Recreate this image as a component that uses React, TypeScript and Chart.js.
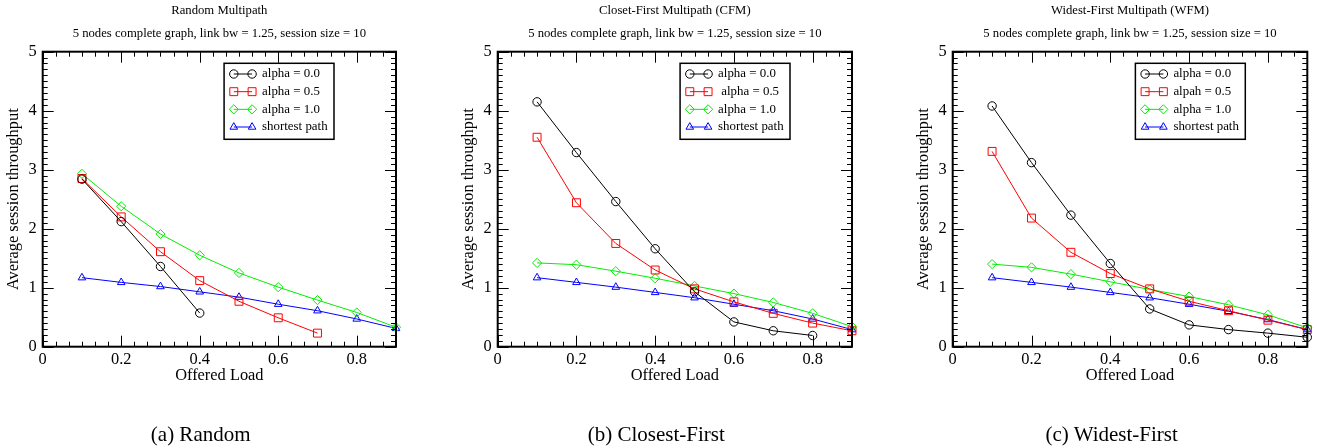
import React, { useEffect, useRef } from "react";
import { Chart, registerables } from "chart.js";

Chart.register(...registerables);
Chart.defaults.font.family = "'Liberation Serif', 'Times New Roman', serif";
Chart.defaults.color = "#000";

// ---------- data ----------
const offeredLoad = [0.1, 0.2, 0.3, 0.4, 0.5, 0.6, 0.7, 0.8, 0.9];
const xTickStep = 0.2;
const yTickStep = 1;

// (a) Random Multipath
const randomAlpha00 = [2.84, 2.12, 1.36, 0.57];
const randomAlpha05 = [2.85, 2.2, 1.61, 1.12, 0.77, 0.49, 0.23];
const randomAlpha10 = [2.93, 2.38, 1.91, 1.55, 1.25, 1.01, 0.79, 0.58, 0.33];
const randomShortest = [1.17, 1.09, 1.02, 0.93, 0.84, 0.72, 0.61, 0.47, 0.31];

// (b) Closet-First Multipath
const cfmAlpha00 = [4.15, 3.29, 2.46, 1.66, 0.93, 0.42, 0.27, 0.19];
const cfmAlpha05 = [3.55, 2.44, 1.75, 1.3, 0.98, 0.76, 0.565, 0.4, 0.27];
const cfmAlpha10 = [1.42, 1.39, 1.28, 1.16, 1.03, 0.9, 0.75, 0.565, 0.34];
const cfmShortest = [1.17, 1.09, 1.01, 0.92, 0.83, 0.72, 0.61, 0.47, 0.29];

// (c) Widest-First Multipath
const wfmAlpha00 = [4.08, 3.12, 2.23, 1.41, 0.64, 0.37, 0.29, 0.23, 0.16];
const wfmAlpha05 = [3.31, 2.18, 1.6, 1.24, 0.98, 0.77, 0.61, 0.45, 0.29];
const wfmAlpha10 = [1.4, 1.345, 1.23, 1.1, 0.97, 0.85, 0.71, 0.54, 0.32];
const wfmShortest = [1.17, 1.09, 1.01, 0.92, 0.83, 0.72, 0.6, 0.46, 0.29];

const labelsA = ["alpha = 0.0", "alpha = 0.5", "alpha = 1.0", "shortest path"];
const labelsB = ["alpha = 0.0", " alpha = 0.5", "alpha = 1.0", "shortest path"];
const labelsC = ["alpha = 0.0", "alpah = 0.5", "alpha = 1.0", "shortest path"];

const titles = ["Random Multipath", "Closet-First Multipath (CFM)", "Widest-First Multipath (WFM)"];
const subtitleText = "5 nodes complete graph, link bw = 1.25, session size = 10";
const captions = ["(a) Random", "(b) Closest-First", "(c) Widest-First"];
const xTitle = "Offered Load";
const yTitle = "Average session throughput";

// ---------- styles ----------
const seriesStyles = [
  { color: "#000000", pointStyle: "circle", radius: 4.2 },
  { color: "#ff0000", pointStyle: "rect", radius: 5.6 },
  { color: "#00ee00", pointStyle: "rectRot", radius: 4.6 },
  { color: "#0000ff", pointStyle: "triangle", radius: 4.4 },
];

const panels = [
  { left: 0, width: 440, padRight: 44, captionX: 200.7, series: [randomAlpha00, randomAlpha05, randomAlpha10, randomShortest], labels: labelsA },
  { left: 455, width: 440, padRight: 43, captionX: 656.3, series: [cfmAlpha00, cfmAlpha05, cfmAlpha10, cfmShortest], labels: labelsB },
  { left: 910, width: 407, padRight: 9.7, captionX: 1111.7, series: [wfmAlpha00, wfmAlpha05, wfmAlpha10, wfmShortest], labels: labelsC },
];

const H = 448;

function drawMarker(ctx: CanvasRenderingContext2D, style: string, x: number, y: number, r: number) {
  ctx.beginPath();
  if (style === "circle") {
    ctx.arc(x, y, r, 0, Math.PI * 2);
  } else if (style === "rect") {
    const s = Math.SQRT1_2 * r;
    ctx.rect(x - s, y - s, 2 * s, 2 * s);
  } else if (style === "rectRot") {
    ctx.moveTo(x - r, y);
    ctx.lineTo(x, y - r);
    ctx.lineTo(x + r, y);
    ctx.lineTo(x, y + r);
    ctx.closePath();
  } else {
    const a = (2 * Math.PI) / 3;
    ctx.moveTo(x, y - r);
    ctx.lineTo(x + Math.sin(a) * r, y - Math.cos(a) * r);
    ctx.lineTo(x + Math.sin(2 * a) * r, y - Math.cos(2 * a) * r);
    ctx.closePath();
  }
  ctx.stroke();
}

const frameTicksPlugin = {
  id: "frameTicks",
  afterDatasetsDraw(chart: any) {
    const { ctx, chartArea: a, scales } = chart;
    const xs = scales.x;
    const ys = scales.y;
    ctx.save();
    ctx.strokeStyle = "#000";
    ctx.lineWidth = 1;
    ctx.beginPath();
    const major = 11;
    const minor = 5;
    // x ticks
    const xMajor = xs.ticks.map((t: any) => t.value);
    const xMinorStep = xTickStep / 6;
    for (let i = 0; ; i++) {
      const v = xs.min + i * xMinorStep;
      if (v > xs.max + 1e-9) break;
      const isMajor = xMajor.some((m: number) => Math.abs(m - v) < 1e-6);
      const px = Math.round(xs.getPixelForValue(v)) + 0.5;
      const len = isMajor ? major : minor;
      ctx.moveTo(px, a.bottom);
      ctx.lineTo(px, a.bottom - len);
      ctx.moveTo(px, a.top);
      ctx.lineTo(px, a.top + len);
    }
    // y ticks
    const yMajor = ys.ticks.map((t: any) => t.value);
    const yMinorStep = yTickStep / 10;
    for (let i = 0; ; i++) {
      const v = ys.min + i * yMinorStep;
      if (v > ys.max + 1e-9) break;
      const isMajor = yMajor.some((m: number) => Math.abs(m - v) < 1e-6);
      const py = Math.round(ys.getPixelForValue(v)) + 0.5;
      const len = isMajor ? major : minor;
      ctx.moveTo(a.left, py);
      ctx.lineTo(a.left + len, py);
      ctx.moveTo(a.right, py);
      ctx.lineTo(a.right - len, py);
    }
    ctx.stroke();
    ctx.lineWidth = 2;
    ctx.strokeRect(a.left, a.top, a.right - a.left, a.bottom - a.top);
    ctx.restore();
  },
};

const boxLegendPlugin = {
  id: "boxLegend",
  afterDraw(chart: any, _args: any, opts: any) {
    const { ctx, chartArea: a } = chart;
    const datasets = chart.data.datasets;
    ctx.save();
    ctx.font = "12.9px 'Liberation Serif', serif";
    let maxW = 0;
    datasets.forEach((d: any) => {
      maxW = Math.max(maxW, ctx.measureText(d.label).width);
    });
    const textX = 38;
    const boxW = textX + maxW + 6.4;
    const boxH = 76;
    const right = a.right - opts.rightGap;
    const left = right - boxW;
    const top = a.top + opts.topGap;
    ctx.fillStyle = "#fff";
    ctx.fillRect(left, top, boxW, boxH);
    ctx.lineWidth = 1.5;
    ctx.strokeStyle = "#000";
    ctx.strokeRect(left, top, boxW, boxH);
    datasets.forEach((d: any, i: number) => {
      const y = top + 10.7 + i * 17.67;
      const x1 = left + 9.7;
      const x2 = left + 28;
      ctx.strokeStyle = d.borderColor;
      ctx.lineWidth = 1;
      ctx.beginPath();
      ctx.moveTo(x1, y);
      ctx.lineTo(x2, y);
      ctx.stroke();
      drawMarker(ctx, d.pointStyle, x1, y, d.pointRadius);
      drawMarker(ctx, d.pointStyle, x2, y, d.pointRadius);
      ctx.fillStyle = "#000";
      ctx.textBaseline = "middle";
      ctx.textAlign = "left";
      ctx.fillText(d.label, left + textX, y);
    });
    ctx.restore();
  },
};

function Panel({ idx }: { idx: number }) {
  const ref = useRef<HTMLCanvasElement>(null);
  const p = panels[idx];
  useEffect(() => {
    const datasets = p.series.map((vals, i) => ({
      label: p.labels[i],
      data: vals.map((v, j) => ({ x: offeredLoad[j], y: v })),
      borderColor: seriesStyles[i].color,
      backgroundColor: "rgba(0,0,0,0)",
      pointBackgroundColor: "rgba(0,0,0,0)",
      pointBorderColor: seriesStyles[i].color,
      pointStyle: seriesStyles[i].pointStyle,
      pointRadius: seriesStyles[i].radius,
      pointBorderWidth: 1,
      borderWidth: 1,
      tension: 0,
      clip: false as any,
    }));
    const chart = new Chart(ref.current!, {
      type: "line",
      data: { datasets },
      plugins: [frameTicksPlugin, boxLegendPlugin],
      options: {
        animation: false,
        responsive: false,
        devicePixelRatio: 1,
        layout: { padding: { left: 0, right: p.padRight, top: 0, bottom: 62.7 } },
        scales: {
          x: {
            type: "linear",
            min: 0,
            max: 0.9,
            grid: { display: false, drawTicks: false },
            border: { display: false },
            ticks: {
              stepSize: xTickStep,
              includeBounds: false,
              padding: 3,
              maxRotation: 0,
              font: { size: 16.4 },
              color: "#000",
              callback: (v: any) => String(Number(Number(v).toFixed(1))),
            },
            title: { display: true, text: xTitle, font: { size: 16.4 }, color: "#000", padding: { top: 0, bottom: 0 } },
            afterFit: (s: any) => {
              s.height = 38.6;
            },
          },
          y: {
            min: 0,
            max: 5,
            grid: { display: false, drawTicks: false },
            border: { display: false },
            ticks: { stepSize: yTickStep, padding: 6, font: { size: 16.4 }, color: "#000" },
            title: { display: true, text: yTitle, font: { size: 16.4 }, color: "#000", padding: { top: 4, bottom: 0 } },
            afterFit: (s: any) => {
              s.width = 42.7;
            },
          },
        },
        plugins: {
          legend: { display: false },
          tooltip: { enabled: false },
          title: {
            display: true,
            text: titles[idx],
            fullSize: false,
            color: "#000",
            font: { size: 12.7, weight: "normal" },
            padding: { top: 3.4, bottom: 3.6 },
          },
          subtitle: {
            display: true,
            text: subtitleText,
            fullSize: false,
            color: "#000",
            font: { size: 12.7, weight: "normal" },
            padding: { top: 4.14, bottom: 10.08 },
          },
          boxLegend: { rightGap: 62, topGap: 11.6 },
        } as any,
      },
    });
    return () => chart.destroy();
  }, []);
  return (
    <>
      <canvas
        ref={ref}
        width={p.width}
        height={H}
        style={{ position: "absolute", left: p.left, top: 0, width: p.width, height: H, display: "block" }}
      />
      <div
        style={{
          position: "absolute",
          left: p.captionX - 150,
          width: 300,
          top: 423.6,
          textAlign: "center",
          fontFamily: "'Liberation Serif', serif",
          fontSize: 21,
          lineHeight: "21px",
          whiteSpace: "pre",
          color: "#000",
        }}
      >
        {captions[idx]}
      </div>
    </>
  );
}

export default function App() {
  return (
    <div style={{ position: "fixed", left: 0, top: 0, width: 1317, height: H, overflow: "hidden", background: "#fff" }}>
      <Panel idx={0} />
      <Panel idx={1} />
      <Panel idx={2} />
    </div>
  );
}
